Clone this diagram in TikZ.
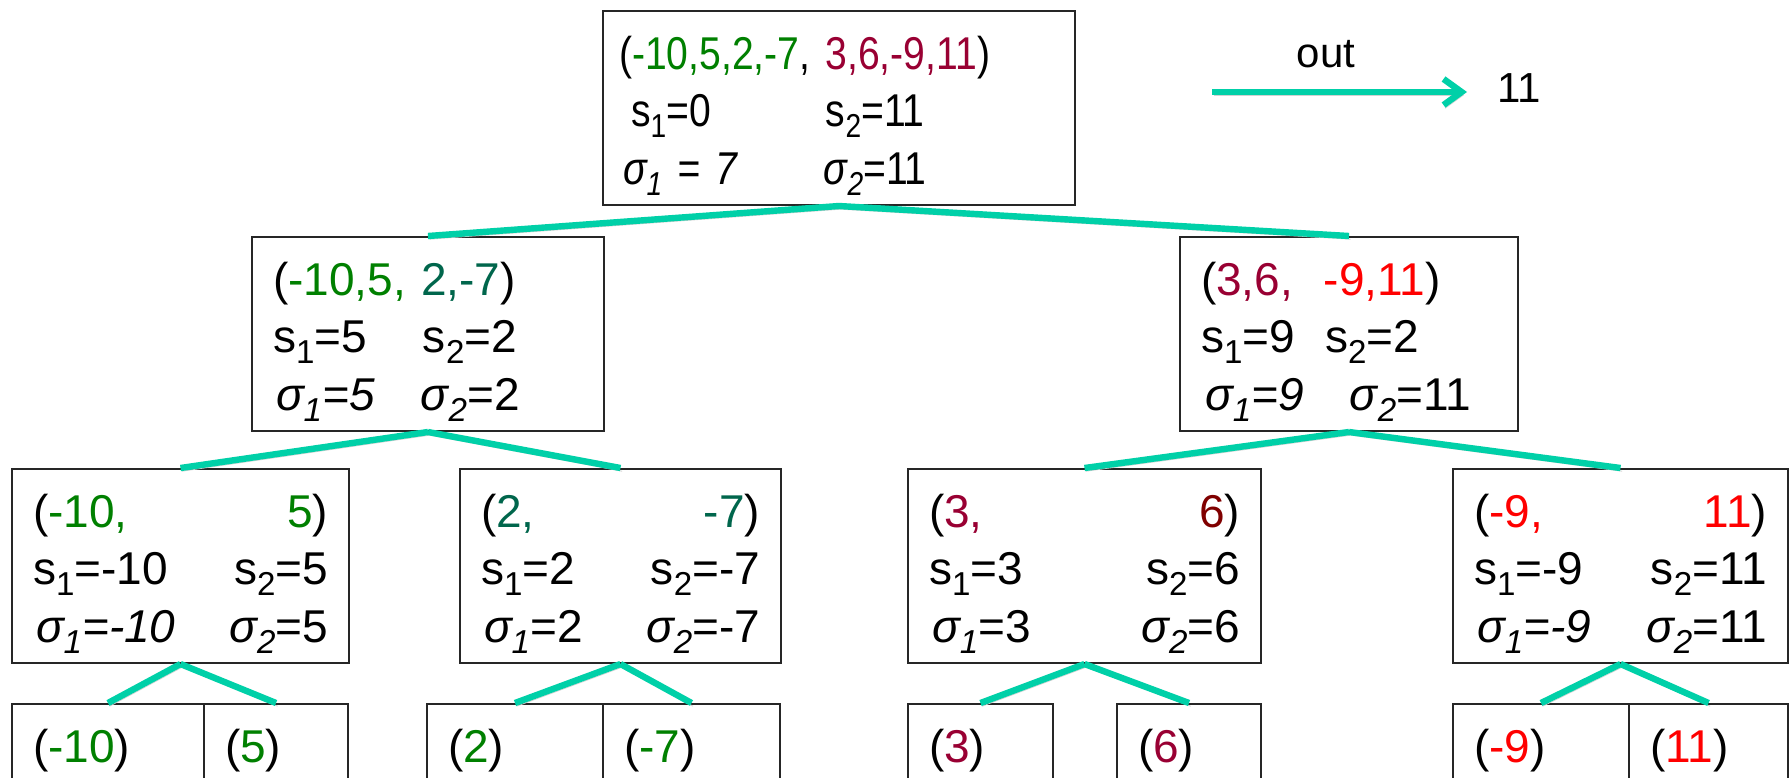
\documentclass[tikz,border=0pt]{standalone}
\usepackage{fontspec}
\usepackage{graphicx}
\setmainfont{Liberation Sans}
\newfontfamily\topfont[FakeStretch=0.85]{Liberation Sans}
\usetikzlibrary{arrows.meta}
\definecolor{cgreen}{RGB}{0,128,0}
\definecolor{cteal}{RGB}{0,102,76}
\definecolor{cmaroon}{RGB}{153,0,51}
\definecolor{cdarkred}{RGB}{128,0,0}
\definecolor{cturq}{RGB}{0,208,168}
\newcommand{\subs}[1]{\raisebox{-0.24em}{\scalebox{0.72}{#1}}}
\newcommand{\tstrut}{\rule{0pt}{29pt}}
\newcommand{\bstrut}{\rule[-10.5pt]{0pt}{0pt}}
\tikzset{
  box/.style={draw=black!85, line width=1pt, anchor=north west, align=left,
    inner xsep=10.5pt, inner ysep=0pt, text width=#1,
    font=\fontsize{23}{28.75}\selectfont},
  leaf/.style={box=#1, text depth=60pt},
  shade line/.style={preaction={draw=black!18, transform canvas={shift={(0.8pt,-1.6pt)}}}},
  link/.style={draw=cturq, line width=3.2pt, shade line},
  outarrow/.style={draw=cturq, line width=3.2pt, shade line,
    -{Straight Barb[length=9pt,width=13pt]}, shorten >=15pt},
}
\begin{document}
\begin{tikzpicture}[x=0.5pt,y=-0.5pt]
\clip (0,0) rectangle (1791,777);
\fill[white] (0,0) rectangle (1791,777);
% root
\node[box=220pt, inner xsep=8pt, font=\topfont\fontsize{23}{28.75}\selectfont] (top) at (602,10)
  {\tstrut(\textcolor{cgreen}{-10,5,2,-7}, \textcolor{cmaroon}{3,6,-9,11})\\
   \hspace*{6pt}\makebox[97.5pt][l]{s\subs{1}=0}s\subs{2}=11\\
   \hspace*{2pt}\makebox[100.5pt][l]{\textit{σ\subs{1} = 7}}\textit{σ\subs{2}}=11\bstrut};
% second level
\node[box=155pt] (l2a) at (251,236)
  {\tstrut(\textcolor{cgreen}{-10,5,} \textcolor{cteal}{2,-7})\\
   \makebox[75pt][l]{s\subs{1}=5}s\subs{2}=2\\
   \hspace*{1.5pt}\makebox[72.5pt][l]{\textit{σ\subs{1}=5}}\textit{σ\subs{2}}=2\bstrut};
\node[box=148pt] (l2b) at (1179,236)
  {\tstrut(\textcolor{cmaroon}{3,6,}\ \ \textcolor{red}{-9,11})\\
   \makebox[62pt][l]{s\subs{1}=9}s\subs{2}=2\\
   \hspace*{2pt}\makebox[72.5pt][l]{\textit{σ\subs{1}=9}}\textit{σ\subs{2}}=11\bstrut};
% third level
\node[box=147.5pt] (l3a) at (11,468)
  {\tstrut(\textcolor{cgreen}{-10,}\hfill\textcolor{cgreen}{5})\\
   s\subs{1}=-10\hfill s\subs{2}=5\\
   \hspace*{1.5pt}\textit{σ\subs{1}=-10}\hfill\textit{σ\subs{2}}=5\bstrut};
\node[box=139.5pt] (l3b) at (459,468)
  {\tstrut(\textcolor{cteal}{2,}\hfill\textcolor{cteal}{-7})\\
   s\subs{1}=2\hfill s\subs{2}=-7\\
   \hspace*{1.5pt}\textit{σ\subs{1}}=2\hfill\textit{σ\subs{2}}=-7\bstrut};
\node[box=155.5pt] (l3c) at (907,468)
  {\tstrut(\textcolor{cmaroon}{3,}\hfill\textcolor{cdarkred}{6})\\
   s\subs{1}=3\hfill s\subs{2}=6\\
   \hspace*{1.5pt}\textit{σ\subs{1}}=3\hfill\textit{σ\subs{2}}=6\bstrut};
\node[box=146.5pt] (l3d) at (1452,468)
  {\tstrut(\textcolor{red}{-9,}\hfill\textcolor{red}{11})\\
   s\subs{1}=-9\hfill s\subs{2}=11\\
   \hspace*{1.5pt}\textit{σ\subs{1}=-9}\hfill\textit{σ\subs{2}}=11\bstrut};
% leaves
\foreach \x/\w/\name/\val in {11/75pt/b1/\textcolor{cgreen}{-10}, 203/51pt/b2/\textcolor{cgreen}{5},
    426/67pt/b3/\textcolor{cgreen}{2}, 602/67.5pt/b4/\textcolor{cgreen}{-7},
    907/51.5pt/b5/\textcolor{cmaroon}{3}, 1116/51pt/b6/\textcolor{cmaroon}{6},
    1452/67pt/b7/\textcolor{red}{-9}, 1628/58.5pt/b8/\textcolor{red}{11}}
{
\node[leaf=\w] (\name) at (\x,703) {\tstrut(\val)};
}
\foreach \a/\b in {top/l2a,top/l2b,l2a/l3a,l2a/l3b,l2b/l3c,l2b/l3d,
    l3a/b1,l3a/b2,l3b/b3,l3b/b4,l3c/b5,l3c/b6,l3d/b7,l3d/b8}
{
\draw[link] (\a.south) -- (\b.north);
}
% output
\coordinate (outfrom) at (1212,92);
\node[anchor=base west, inner sep=0pt, font=\fontsize{21}{25}\selectfont] (out11) at (1497,102) {11};
\draw[outarrow] (outfrom) -- (outfrom -| out11.west)
  node[above=7pt, pos=0.4, font=\fontsize{21}{25}\selectfont] (outlbl) {out};
\end{tikzpicture}
\end{document}
